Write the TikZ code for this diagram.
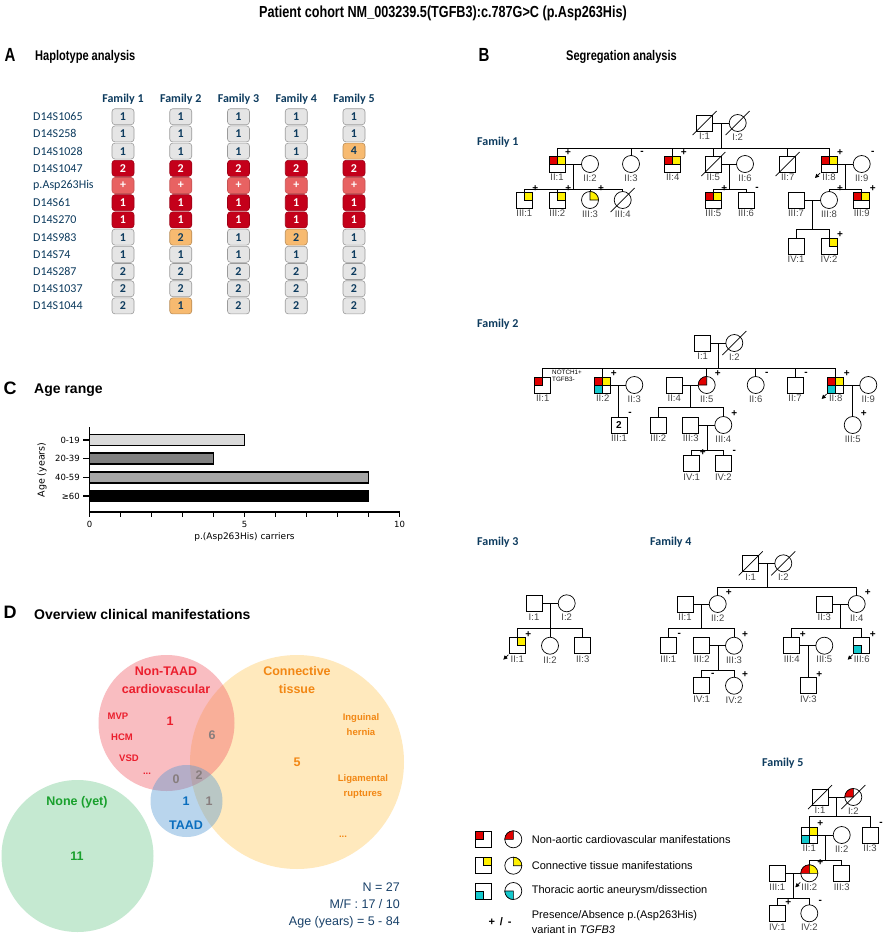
\documentclass[tikz,border=0pt]{standalone}
\usepackage{fontspec}
\setmainfont{Liberation Sans}
\newfontfamily\calfont{Carlito}
\newfontfamily\dvfont{DejaVu Sans}
\newfontfamily\narrowfont[FakeStretch=0.79]{Liberation Sans}
\usetikzlibrary{positioning,calc,arrows.meta}

\definecolor{navy}{RGB}{13,59,94}
\definecolor{nblue}{RGB}{25,65,105}
\definecolor{hapgrey}{RGB}{229,229,229}
\definecolor{hapedge}{RGB}{155,155,155}
\definecolor{hapred}{RGB}{196,0,26}
\definecolor{happlus}{RGB}{232,98,98}
\definecolor{hapor}{RGB}{247,186,112}
\definecolor{cvred}{RGB}{225,0,0}
\definecolor{ctyel}{RGB}{255,240,0}
\definecolor{taacy}{RGB}{20,200,205}
\definecolor{idgray}{RGB}{70,70,70}
\definecolor{barA}{RGB}{217,217,217}
\definecolor{barB}{RGB}{128,128,128}
\definecolor{barC}{RGB}{166,166,166}
\definecolor{vred}{RGB}{240,90,100}
\definecolor{vorange}{RGB}{255,200,90}
\definecolor{vblue}{RGB}{80,150,210}
\definecolor{vgreen}{RGB}{110,200,140}
\definecolor{vtred}{RGB}{235,30,45}
\definecolor{vtor}{RGB}{242,135,20}
\definecolor{vtbl}{RGB}{10,110,190}
\definecolor{vtgr}{RGB}{25,160,45}
\definecolor{vtgy}{RGB}{135,125,125}

\newcommand{\fsz}[1]{\fontsize{#1}{#1}\selectfont}

% pedigree helpers
\newcommand{\Ind}[5]{\node[#1] (#2) at (#3,#4) {}; \node[idlab, below=1pt of #2] (#2l) {#5};}
\newcommand{\Sgn}[2]{\node[sgn] (#1s) at ([shift={(11pt,11pt)}]#1.center) {#2};}
\newcommand{\Dec}[1]{\draw[ped] ([shift={(-12pt,-12pt)}]#1.center) -- ([shift={(12pt,12pt)}]#1.center);}
\newcommand{\Pro}[1]{\draw[ped,-{Triangle[length=4pt,width=4pt]}] ([shift={(-9pt,-9pt)}]#1.center) -- ([shift={(-14pt,-14pt)}]#1.center);}
\newcommand{\SqTL}[2]{\filldraw[fill=#2,line width=0.6pt] (#1.north west) rectangle (#1.center);}
\newcommand{\SqTR}[2]{\filldraw[fill=#2,line width=0.6pt] (#1.north) rectangle (#1.east);}
\newcommand{\SqBL}[2]{\filldraw[fill=#2,line width=0.6pt] (#1.west) rectangle (#1.south);}
\newcommand{\CiTL}[2]{\filldraw[fill=#2,line width=0.6pt] (#1.center) -- (#1.north) arc[start angle=90,end angle=180,radius=8.5pt] -- cycle;}
\newcommand{\CiTR}[2]{\filldraw[fill=#2,line width=0.6pt] (#1.center) -- (#1.north) arc[start angle=90,end angle=0,radius=8.5pt] -- cycle;}
\newcommand{\CiBL}[2]{\filldraw[fill=#2,line width=0.6pt] (#1.center) -- (#1.west) arc[start angle=180,end angle=270,radius=8.5pt] -- cycle;}
\newcommand{\Sib}[5]{%
	\draw[ped] (#2) -- (#3);
	\coordinate (#1m) at ($(#2)!0.5!(#3)$);
	\coordinate (#1s) at (#1m |- 0,#4);
	\draw[ped] (#1m) -- (#1s);
	\foreach \c in {#5} \draw[ped] (\c.north) |- (#1s);}

\begin{document}
\begin{tikzpicture}[x=1pt,y=-1pt,
	male/.style={draw,rectangle,minimum size=16pt,inner sep=0pt,outer sep=0pt,line width=0.7pt,fill=white},
	female/.style={draw,circle,minimum size=17pt,inner sep=0pt,outer sep=0pt,line width=0.7pt,fill=white},
	idlab/.style={inner sep=1pt,text=idgray,font=\fsz{9.5}},
	sgn/.style={inner sep=0pt,font=\bfseries\fsz{10}},
	ped/.style={line width=0.7pt},
	famlab/.style={anchor=west,inner sep=0pt,text=navy,font=\calfont\bfseries\fsz{12}},
	panel/.style={inner sep=0pt,font=\bfseries\fsz{18}},
	npanel/.style={inner sep=0pt,font=\narrowfont\bfseries\fsz{19}},
	ptitle/.style={anchor=west,inner sep=0pt,font=\bfseries\fsz{14}},
	nptitle/.style={anchor=west,inner sep=0pt,font=\narrowfont\bfseries\fsz{14}},
	haphead/.style={inner sep=0pt,text=navy,font=\calfont\bfseries\fsz{12}},
	hapname/.style={anchor=west,inner sep=0pt,text=navy,font=\calfont\fsz{12}},
	hapbox/.style={rectangle,rounded corners=3pt,minimum width=22pt,minimum height=16pt,inner sep=0pt,line width=0.6pt,font=\calfont\bfseries\fsz{12}},
	hapg/.style={hapbox,fill=hapgrey,draw=hapedge,text=navy},
	hapr/.style={hapbox,fill=hapred,draw=hapred!80!black,text=white},
	happ/.style={hapbox,fill=happlus,draw=happlus!85!black,text=white},
	hapo/.style={hapbox,fill=hapor,draw=hapor!75!black,text=navy},
	axis/.style={line width=1.5pt},
	barst/.style={draw=black,line width=1.5pt},
	ctick/.style={inner sep=0pt,font=\dvfont\fsz{8.5}},
	venn/.style={circle,draw=none,inner sep=0pt,fill opacity=0.4},
	vtxt/.style={inner sep=0pt,align=center,font=\bfseries\fontsize{12.5}{18.5}\selectfont},
	vsub/.style={inner sep=0pt,align=center,font=\bfseries\fontsize{9.5}{15}\selectfont},
	legtxt/.style={anchor=west,inner sep=0pt,font=\fsz{11}}]

	\useasboundingbox (0,0) rectangle (886,935);
	\fill[white] (0,0) rectangle (886,935);

	\node[font=\narrowfont\bfseries\fsz{16}] (title) at (443,13) {Patient cohort NM\_003239.5(TGFB3):c.787G>C (p.Asp263His)};

	% A: haplotypes
	\node[npanel] (pa) at (10,55) {A};
	\node[nptitle] (pat) at (35,57) {Haplotype analysis};
	\foreach \f in {1,...,5}
		\node[haphead] (hh\f) at ({123+57.75*(\f-1)},99) {Family \f};
	\foreach \lab/\vals [count=\i] in {D14S1065/{g/1,g/1,g/1,g/1,g/1},
		D14S258/{g/1,g/1,g/1,g/1,g/1},
		D14S1028/{g/1,g/1,g/1,g/1,o/4},
		D14S1047/{r/2,r/2,r/2,r/2,r/2},
		p.Asp263His/{p/+,p/+,p/+,p/+,p/+},
		D14S61/{r/1,r/1,r/1,r/1,r/1},
		D14S270/{r/1,r/1,r/1,r/1,r/1},
		D14S983/{g/1,o/2,g/1,o/2,g/1},
		D14S74/{g/1,g/1,g/1,g/1,g/1},
		D14S287/{g/2,g/2,g/2,g/2,g/2},
		D14S1037/{g/2,g/2,g/2,g/2,g/2},
		D14S1044/{g/2,o/1,g/2,g/2,g/2}}{
		\node[hapname] (hn\i) at (33,{116.7+17.2*(\i-1)}) {\lab};
		\foreach \st/\v [count=\j] in \vals
			\node[hap\st] (hc\i-\j) at ({123+57.75*(\j-1)},{116.7+17.2*(\i-1)}) {\v};
	}

	% C: age range
	\node[panel] (pc) at (10,388) {C};
	\node[ptitle] (pct) at (34,390) {Age range};
	\draw[axis] (89.5,427) -- (89.5,512) -- (399.5,512);
	\foreach \k in {0,...,10}
		\draw[axis] ({89.5+31*\k},512) -- ++(0,5);
	\foreach \k in {0,5,10}
		\node[ctick] (cx\k) at ({89.5+31*\k},524) {\k};
	\foreach \lab/\v/\c [count=\i] in {0-19/5/barA,20-39/4/barB,40-59/9/barC,≥60/9/black}{
		\pgfmathsetmacro{\yy}{440+18.7*(\i-1)}
		\draw[barst,fill=\c] (89.5,\yy-5.5) rectangle ({89.5+31*\v},\yy+5.5);
		\draw[axis] (83,\yy) -- (89.5,\yy);
		\node[ctick,anchor=east] (cy\i) at (80,\yy) {\lab};
	}
	\node[ctick,rotate=90,font=\dvfont\fsz{9.5}] (cyl) at (42,470) {Age (years)};
	\node[ctick,font=\dvfont\fsz{9}] (cxl) at (244.5,537) {p.(Asp263His) carriers};

	% D: clinical overview
	\node[panel] (pd) at (10,612) {D};
	\node[ptitle] (pdt) at (34,614) {Overview clinical manifestations};
	\node[venn,fill=vgreen,minimum size=152pt] (vnone) at (77.5,856) {};
	\node[venn,fill=vorange,minimum size=214pt] (vct) at (297,762) {};
	\node[venn,fill=vred,minimum size=136pt] (vcv) at (166.5,723) {};
	\node[venn,fill=vblue,minimum size=72pt] (vta) at (186.5,801) {};
	\node[vtxt,text=vtred] (vcvt) at (166,680.5) {Non-TAAD\\cardiovascular};
	\node[vtxt,text=vtor] (vctt) at (297,680) {Connective\\tissue};
	\node[vtxt,text=vtbl] (vtat) at (186,825) {TAAD};
	\node[vtxt,text=vtgr] (vnonet) at (77,802) {None (yet)};
	\node[vsub,text=vtred] (vmvp) at (118,716) {MVP};
	\node[vsub,text=vtred] (vhcm) at (122,737) {HCM};
	\node[vsub,text=vtred] (vvsd) at (129,758) {VSD};
	\node[vsub,text=vtred] (vdot1) at (147,774) {...};
	\node[vsub,text=vtor] (ving) at (361,724.5) {Inguinal\\hernia};
	\node[vsub,text=vtor] (vlig) at (363,786.5) {Ligamental\\ruptures};
	\node[vsub,text=vtor] (vdot2) at (343,837) {...};
	\node[vtxt,text=vtred] (n1) at (170,721) {1};
	\node[vtxt,text=vtgy] (n6) at (212,735) {6};
	\node[vtxt,text=vtgy] (n0) at (176,779) {0};
	\node[vtxt,text=vtgy] (n2) at (199,775) {2};
	\node[vtxt,text=vtbl] (n1b) at (186,801) {1};
	\node[vtxt,text=vtgy] (n1c) at (209,801) {1};
	\node[vtxt,text=vtor] (n5) at (297,762) {5};
	\node[vtxt,text=vtgr] (n11) at (77,856) {11};
	\node[anchor=east,inner sep=0pt,align=right,text=nblue,font=\fontsize{12.5}{17}\selectfont] (vstat) at (400,905) {N = 27\\M/F : 17 / 10\\Age (years) = 5 - 84};

	% B: pedigrees
	\node[npanel] (pb) at (484,55) {B};
	\node[nptitle] (pbt) at (566,57) {Segregation analysis};

	% Family 1
	\node[famlab] (fam1) at (477,142) {Family 1};
	\Ind{male}{f1i1}{704.5}{123}{I:1}
	\Ind{female}{f1i2}{737.7}{123}{I:2}
	\Ind{male}{f1ii1}{557}{164}{II:1}
	\Ind{female}{f1ii2}{590}{164}{II:2}
	\Ind{female}{f1ii3}{631}{164}{II:3}
	\Ind{male}{f1ii4}{672.7}{164}{II:4}
	\Ind{male}{f1ii5}{713.3}{164}{II:5}
	\Ind{female}{f1ii6}{745}{164}{II:6}
	\Ind{male}{f1ii7}{787.7}{164}{II:7}
	\Ind{male}{f1ii8}{829}{164}{II:8}
	\Ind{female}{f1ii9}{861.7}{164}{II:9}
	\Ind{male}{f1iii1}{524.3}{200}{III:1}
	\Ind{male}{f1iii2}{557.3}{200}{III:2}
	\Ind{female}{f1iii3}{590}{200}{III:3}
	\Ind{female}{f1iii4}{622.7}{200}{III:4}
	\Ind{male}{f1iii5}{713.3}{200}{III:5}
	\Ind{male}{f1iii6}{746}{200}{III:6}
	\Ind{male}{f1iii7}{796}{200}{III:7}
	\Ind{female}{f1iii8}{829}{200}{III:8}
	\Ind{male}{f1iii9}{861.7}{200}{III:9}
	\Ind{male}{f1iv1}{796}{246}{IV:1}
	\Ind{male}{f1iv2}{829}{246}{IV:2}
	\Sib{f1a}{f1i1}{f1i2}{148}{f1ii1,f1ii3,f1ii4,f1ii5,f1ii7,f1ii8}
	\Sib{f1b}{f1ii1}{f1ii2}{189}{f1iii1,f1iii2,f1iii3,f1iii4}
	\Sib{f1c}{f1ii5}{f1ii6}{189}{f1iii5,f1iii6}
	\Sib{f1d}{f1ii8}{f1ii9}{189}{f1iii8,f1iii9}
	\Sib{f1e}{f1iii7}{f1iii8}{229.3}{f1iv1,f1iv2}
	\SqTL{f1ii1}{cvred} \SqTR{f1ii1}{ctyel}
	\SqTL{f1ii4}{cvred} \SqTR{f1ii4}{ctyel}
	\SqTL{f1ii8}{cvred} \SqTR{f1ii8}{ctyel}
	\SqTR{f1iii1}{ctyel} \SqTR{f1iii2}{ctyel} \CiTR{f1iii3}{ctyel}
	\SqTL{f1iii5}{cvred} \SqTR{f1iii5}{ctyel}
	\SqTL{f1iii9}{cvred} \SqTR{f1iii9}{ctyel}
	\SqTR{f1iv2}{ctyel}
	\Dec{f1i1} \Dec{f1i2} \Dec{f1ii5} \Dec{f1ii7} \Dec{f1iii4}
	\Pro{f1ii8}
	\Sgn{f1ii1}{+} \Sgn{f1ii3}{-} \Sgn{f1ii4}{+} \Sgn{f1ii8}{+} \Sgn{f1ii9}{-}
	\Sgn{f1iii1}{+} \Sgn{f1iii2}{+} \Sgn{f1iii3}{+} \Sgn{f1iii5}{+} \Sgn{f1iii6}{-}
	\Sgn{f1iii8}{+} \Sgn{f1iii9}{+} \Sgn{f1iv2}{+}

	% Family 2
	\node[famlab] (fam2) at (477,324) {Family 2};
	\Ind{male}{f2i1}{702.7}{343}{I:1}
	\Ind{female}{f2i2}{734.3}{343}{I:2}
	\Ind{male}{f2ii1}{542.7}{385}{II:1}
	\Ind{male}{f2ii2}{602.7}{385}{II:2}
	\Ind{female}{f2ii3}{634.3}{385}{II:3}
	\Ind{male}{f2ii4}{674.3}{385}{II:4}
	\Ind{female}{f2ii5}{706.7}{385}{II:5}
	\Ind{female}{f2ii6}{755.7}{385}{II:6}
	\Ind{male}{f2ii7}{795}{385}{II:7}
	\Ind{male}{f2ii8}{835.7}{385}{II:8}
	\Ind{female}{f2ii9}{868.3}{385}{II:9}
	\Ind{male}{f2iii1}{619}{425}{III:1}
	\Ind{male}{f2iii2}{658.3}{425}{III:2}
	\Ind{male}{f2iii3}{690.7}{425}{III:3}
	\Ind{female}{f2iii4}{723.3}{425}{III:4}
	\Ind{female}{f2iii5}{852.7}{425}{III:5}
	\Ind{male}{f2iv1}{691.7}{463.3}{IV:1}
	\Ind{male}{f2iv2}{723.3}{463.3}{IV:2}
	\node[font=\bfseries\fsz{10},inner sep=0pt] (f2iii1n) at (f2iii1) {2};
	\Sib{f2a}{f2i1}{f2i2}{368}{f2ii1,f2ii2,f2ii5,f2ii6,f2ii7,f2ii8}
	\Sib{f2b}{f2ii2}{f2ii3}{417}{f2iii1}
	\Sib{f2c}{f2ii4}{f2ii5}{407.7}{f2iii2,f2iii4}
	\Sib{f2d}{f2ii8}{f2ii9}{416.5}{f2iii5}
	\Sib{f2e}{f2iii3}{f2iii4}{450}{f2iv1,f2iv2}
	\SqTL{f2ii1}{cvred}
	\SqTL{f2ii2}{cvred} \SqTR{f2ii2}{ctyel} \SqBL{f2ii2}{taacy}
	\CiTL{f2ii5}{cvred}
	\SqTL{f2ii8}{cvred} \SqTR{f2ii8}{ctyel} \SqBL{f2ii8}{taacy}
	\Dec{f2i2}
	\Pro{f2ii8}
	\node[anchor=west,align=left,inner sep=0pt,font=\fontsize{6.3}{7}\selectfont] (f2note) at (552,375.5) {NOTCH1+\\TGFB3-};
	\Sgn{f2ii2}{+} \Sgn{f2ii5}{+} \Sgn{f2ii6}{-} \Sgn{f2ii7}{-} \Sgn{f2ii8}{+}
	\Sgn{f2iii1}{-} \Sgn{f2iii4}{+} \Sgn{f2iii5}{+} \Sgn{f2iv1}{+} \Sgn{f2iv2}{-}

	% Family 3
	\node[famlab] (fam3) at (477,542) {Family 3};
	\Ind{male}{f3i1}{534}{603.3}{I:1}
	\Ind{female}{f3i2}{566.7}{603.3}{I:2}
	\Ind{male}{f3ii1}{517.3}{645.7}{II:1}
	\Ind{female}{f3ii2}{550}{645.7}{II:2}
	\Ind{male}{f3ii3}{582.7}{645.7}{II:3}
	\Sib{f3a}{f3i1}{f3i2}{628.3}{f3ii1,f3ii2,f3ii3}
	\SqTR{f3ii1}{ctyel}
	\Pro{f3ii1}
	\Sgn{f3ii1}{+}

	% Family 4
	\node[famlab] (fam4) at (650,542) {Family 4};
	\Ind{male}{f4i1}{750.7}{563.3}{I:1}
	\Ind{female}{f4i2}{783.3}{563.3}{I:2}
	\Ind{male}{f4ii1}{685}{604}{II:1}
	\Ind{female}{f4ii2}{717.7}{604}{II:2}
	\Ind{male}{f4ii3}{824.3}{604}{II:3}
	\Ind{female}{f4ii4}{856.7}{604}{II:4}
	\Ind{male}{f4iii1}{668.3}{645.7}{III:1}
	\Ind{male}{f4iii2}{701.7}{645.7}{III:2}
	\Ind{female}{f4iii3}{734}{645.7}{III:3}
	\Ind{male}{f4iii4}{791.7}{645.7}{III:4}
	\Ind{female}{f4iii5}{824.3}{645.7}{III:5}
	\Ind{male}{f4iii6}{861.7}{645.7}{III:6}
	\Ind{male}{f4iv1}{701.7}{685.7}{IV:1}
	\Ind{female}{f4iv2}{734}{685.7}{IV:2}
	\Ind{male}{f4iv3}{808.3}{685.7}{IV:3}
	\Sib{f4a}{f4i1}{f4i2}{587.7}{f4ii2,f4ii4}
	\Sib{f4b}{f4ii1}{f4ii2}{628.3}{f4iii1,f4iii3}
	\Sib{f4c}{f4ii3}{f4ii4}{628.3}{f4iii4,f4iii6}
	\Sib{f4d}{f4iii2}{f4iii3}{670}{f4iv1,f4iv2}
	\Sib{f4e}{f4iii4}{f4iii5}{677.7}{f4iv3}
	\SqBL{f4iii6}{taacy}
	\Dec{f4i1} \Dec{f4i2}
	\Pro{f4iii6}
	\Sgn{f4ii2}{+} \Sgn{f4ii4}{+} \Sgn{f4iii1}{-} \Sgn{f4iii3}{+} \Sgn{f4iii4}{+}
	\Sgn{f4iii6}{+} \Sgn{f4iv1}{-} \Sgn{f4iv2}{+} \Sgn{f4iv3}{+}

	% Family 5
	\node[famlab] (fam5) at (762,763) {Family 5};
	\Ind{male}{f5i1}{820}{797}{I:1}
	\Ind{female}{f5i2}{853.3}{797}{I:2}
	\Ind{male}{f5ii1}{809.3}{835}{II:1}
	\Ind{female}{f5ii2}{841.7}{835}{II:2}
	\Ind{male}{f5ii3}{870}{835}{II:3}
	\Ind{male}{f5iii1}{777.3}{873.3}{III:1}
	\Ind{female}{f5iii2}{809.3}{873.3}{III:2}
	\Ind{male}{f5iii3}{841.7}{873.3}{III:3}
	\Ind{male}{f5iv1}{777.3}{913.3}{IV:1}
	\Ind{female}{f5iv2}{809.3}{913.3}{IV:2}
	\Sib{f5a}{f5i1}{f5i2}{816.7}{f5ii1,f5ii3}
	\Sib{f5b}{f5ii1}{f5ii2}{860}{f5iii2,f5iii3}
	\Sib{f5c}{f5iii1}{f5iii2}{898.3}{f5iv1,f5iv2}
	\CiTL{f5i2}{cvred}
	\SqTR{f5ii1}{ctyel} \SqBL{f5ii1}{taacy}
	\CiTL{f5iii2}{cvred} \CiTR{f5iii2}{ctyel}
	\Dec{f5i1} \Dec{f5i2}
	\Pro{f5iii2}
	\Sgn{f5ii1}{+} \Sgn{f5ii3}{-} \Sgn{f5iii2}{+} \Sgn{f5iv1}{+} \Sgn{f5iv2}{-}

	% legend
	\node[male] (lg1a) at (483.3,839.3) {}; \SqTL{lg1a}{cvred}
	\node[female] (lg1b) at (513.3,839.3) {}; \CiTL{lg1b}{cvred}
	\node[legtxt] (lg1t) at (531.7,839.3) {Non-aortic cardiovascular manifestations};
	\node[male] (lg2a) at (483.3,865.7) {}; \SqTR{lg2a}{ctyel}
	\node[female] (lg2b) at (513.3,865.7) {}; \CiTR{lg2b}{ctyel}
	\node[legtxt] (lg2t) at (531.7,865.7) {Connective tissue manifestations};
	\node[male] (lg3a) at (483.3,891) {}; \SqBL{lg3a}{taacy}
	\node[female] (lg3b) at (513.3,891) {}; \CiBL{lg3b}{taacy}
	\node[legtxt] (lg3t) at (531.7,891) {Thoracic aortic aneurysm/dissection};
	\node[inner sep=0pt,font=\bfseries\fsz{11}] (lg4a) at (500,921.7) {+ \,/\, -};
	\node[legtxt,align=left,font=\fontsize{11}{14.3}\selectfont] (lg4t) at (531.7,922) {Presence/Absence p.(Asp263His)\\variant in \textit{TGFB3}};
\end{tikzpicture}
\end{document}
